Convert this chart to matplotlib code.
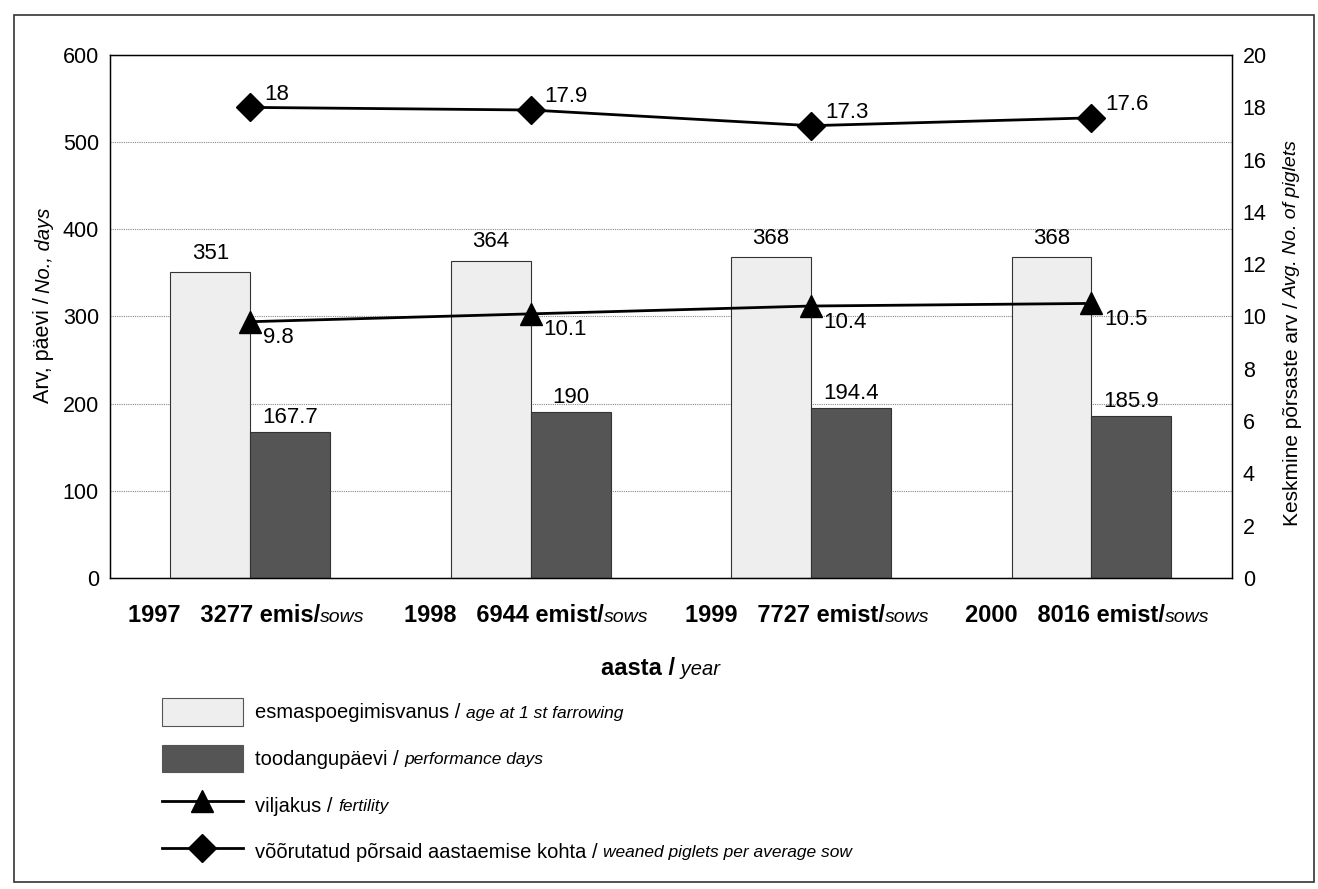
import matplotlib
matplotlib.use("Agg")
import matplotlib.pyplot as plt
from matplotlib.patches import Patch, Rectangle
from matplotlib.lines import Line2D
import numpy as np

plt.rcParams['font.family'] = ['Liberation Sans', 'DejaVu Sans']

years = ['1997', '1998', '1999', '2000']
sows = ['3277 emis', '6944 emist', '7727 emist', '8016 emist']
age_first = [351, 364, 368, 368]
perf_days = [167.7, 190, 194.4, 185.9]
fertility = [9.8, 10.1, 10.4, 10.5]
weaned = [18, 17.9, 17.3, 17.6]

W, H = 1318, 889
fig = plt.figure(figsize=(W / 100, H / 100), dpi=100)
ax1 = fig.add_axes([0.0835, 0.35, 0.851, 0.588])

x = np.arange(len(years))
bw = 0.285
light = '#eeeeee'
dark = '#555555'

ax1.bar(x - bw / 2, age_first, bw, color=light, edgecolor='#333333', linewidth=0.8, zorder=2)
ax1.bar(x + bw / 2, perf_days, bw, color=dark, edgecolor='#333333', linewidth=0.8, zorder=2)
for i in x:
    ax1.annotate(f"{age_first[i]}", (i - bw / 2, age_first[i]), xytext=(0, 6),
                 textcoords='offset points', ha='center', va='bottom', fontsize=16)
    ax1.annotate(f"{perf_days[i]:g}", (i + bw / 2, perf_days[i]), xytext=(0, 3),
                 textcoords='offset points', ha='center', va='bottom', fontsize=16)

ax1.set_xlim(-0.5, len(years) - 0.5)
ax1.set_ylim(0, 600)
ax1.set_yticks(range(0, 601, 100))
ax1.set_xticks([])
ax1.yaxis.grid(True, linestyle=(0, (1, 1)), color='#888888', linewidth=0.8)
ax1.set_axisbelow(True)
ax1.tick_params(axis='y', length=0, pad=8, labelsize=15.5)
for s in ax1.spines.values():
    s.set_linewidth(1.0)

ax2 = ax1.twinx()
ax2.plot(x, fertility, color='black', lw=2, marker='^', ms=16, zorder=4)
ax2.plot(x, weaned, color='black', lw=2, marker='D', ms=14, zorder=4)
for i in x:
    ax2.annotate(f"{weaned[i]:g}", (i, weaned[i]), xytext=(10, 2),
                 textcoords='offset points', ha='left', va='bottom', fontsize=16)
    ax2.annotate(f"{fertility[i]:g}", (i, fertility[i]), xytext=(9, -4),
                 textcoords='offset points', ha='left', va='top', fontsize=16)
ax2.set_ylim(0, 20)
ax2.set_yticks(range(0, 21, 2))
ax2.tick_params(axis='y', length=0, pad=8, labelsize=15.5)

# legend
handles = [
    Patch(facecolor=light, edgecolor='#555555', linewidth=0.8),
    Patch(facecolor=dark, edgecolor='#555555', linewidth=0.8),
    Line2D([], [], color='black', lw=2, marker='^', ms=16),
    Line2D([], [], color='black', lw=2, marker='D', ms=14),
]
labels = ['esmaspoegimisvanus /', 'toodangupäevi /', 'viljakus /',
          'võõrutatud põrsaid aastaemise kohta /']
italic = ['age at 1 st farrowing', 'performance days', 'fertility',
          'weaned piglets per average sow']
leg = fig.legend(handles, labels, loc='upper left', bbox_to_anchor=(162 / W, 1 - 698 / H),
                 frameon=False, fontsize=14.5, handlelength=4.0, handleheight=1.75,
                 labelspacing=0.93, handletextpad=0.6, borderaxespad=0, borderpad=0)

fig.add_artist(Rectangle((0.011, 0.008), 0.986, 0.975, transform=fig.transFigure,
                         fill=False, edgecolor='#333333', linewidth=1.2))

fig.canvas.draw()
r = fig.canvas.get_renderer()

# italic parts of legend labels
for t, it in zip(leg.get_texts(), italic):
    bb = t.get_window_extent(r)
    fig.text((bb.x1 + 6) / W, bb.y0 / H + 0.002, it, fontsize=12.5, style='italic',
             ha='left', va='bottom')

# category labels below the axis
for i in x:
    xc = ax1.transData.transform((i, 0))[0] - 4
    ty = 1 - 622 / H
    t1 = fig.text(0, ty, f"{years[i]}   {sows[i]}/", fontsize=17, fontweight='bold', va='baseline')
    t2 = fig.text(0, ty, "sows", fontsize=14, style='italic', va='baseline')
    w1 = t1.get_window_extent(r).width
    w2 = t2.get_window_extent(r).width
    start = xc - (w1 + w2) / 2
    t1.set_x(start / W)
    t2.set_x((start + w1) / W)

# axis title
xc = ax1.transData.transform((1.5, 0))[0] - 10
ty = 1 - 675 / H
a1 = fig.text(0, ty, "aasta /", fontsize=17, fontweight='bold', va='baseline')
a2 = fig.text(0, ty, " year", fontsize=14.5, style='italic', va='baseline')
w1 = a1.get_window_extent(r).width
w2 = a2.get_window_extent(r).width
a1.set_x((xc - (w1 + w2) / 2) / W)
a2.set_x((xc - (w1 + w2) / 2 + w1) / W)


def vlabel(xpix, ycen, main, ital, fs):
    # rotated label made of a normal part and an italic part
    t1 = fig.text(xpix / W, 0, main, fontsize=fs, rotation=90, ha='center', va='bottom')
    t2 = fig.text(xpix / W, 0, ital, fontsize=fs - 1, style='italic', rotation=90,
                  ha='center', va='bottom')
    h1 = t1.get_window_extent(r).height
    h2 = t2.get_window_extent(r).height
    y0 = ycen - (h1 + h2) / 2
    t1.set_y(y0 / H)
    t2.set_y((y0 + h1 + 4) / H)


vlabel(44, H - 307, "Arv, päevi /", "No., days", 15.5)
vlabel(1292, H - 335, "Keskmine põrsaste arv /", "Avg. No. of piglets", 15)

fig.savefig('out.png', dpi=100)
